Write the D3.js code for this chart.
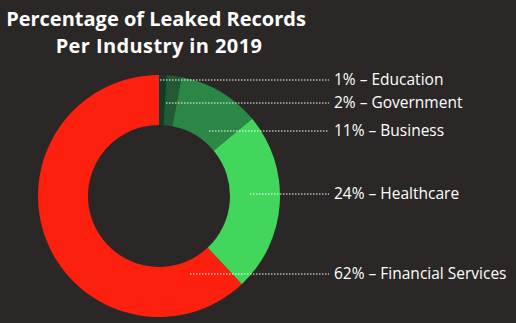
<!DOCTYPE html>
<html><head><meta charset="utf-8">
<script src="https://cdn.jsdelivr.net/npm/d3@7"></script>
<style>html,body{margin:0;padding:0;background:#2a2726;}svg{display:block;}</style>
</head><body>
<script>
const categories = ["Education", "Government", "Business", "Healthcare", "Financial Services"];
const values = [1, 2, 11, 24, 62];
const colors = ["#15392a", "#225a33", "#2a8746", "#42d65c", "#fe200f"];
// label layout (y of each label row, and where the leader starts)
const labelY = [80, 103, 131, 194, 274];
const leaderStart = [[160, 80], [166, 103], [209, 131], [250, 194], [190, 274]];

const W = 516, H = 323;
const cx = 159, cy = 196, R = 121, r = 71;
const svg = d3.select("body").append("svg").attr("width", W).attr("height", H);
svg.append("rect").attr("width", W).attr("height", H).attr("fill", "#2a2726");

const title = svg.append("text").attr("text-anchor", "middle").attr("fill", "#fff")
  .style("font-family", "'Open Sans', sans-serif").style("font-weight", "700").style("font-size", "20px");
title.append("tspan").attr("x", 156).attr("y", 26).text("Percentage of Leaked Records");
title.append("tspan").attr("x", 159).attr("y", 53).style("letter-spacing", "0.4px").text("Per Industry in 2019");

const pie = d3.pie().sort(null).value(d => d)(values);
const arc = d3.arc().innerRadius(r).outerRadius(R);
const g = svg.append("g").attr("transform", `translate(${cx},${cy})`);
g.selectAll("path").data(pie).join("path").attr("d", arc).attr("fill", (d, i) => colors[i]);

const lx2 = 329;
categories.forEach((c, i) => {
  svg.append("line").attr("x1", leaderStart[i][0]).attr("y1", labelY[i]).attr("x2", lx2).attr("y2", labelY[i])
    .attr("stroke", "#fff").attr("stroke-width", 1.2).attr("stroke-dasharray", "1.5,1.5");
  svg.append("text").attr("x", 334).attr("y", labelY[i]).attr("dy", "0.35em").attr("fill", "#fff")
    .style("font-family", "'Open Sans', sans-serif").style("font-size", "15.5px")
    .text(`${values[i]}% – ${c}`);
});
</script>
</body></html>
